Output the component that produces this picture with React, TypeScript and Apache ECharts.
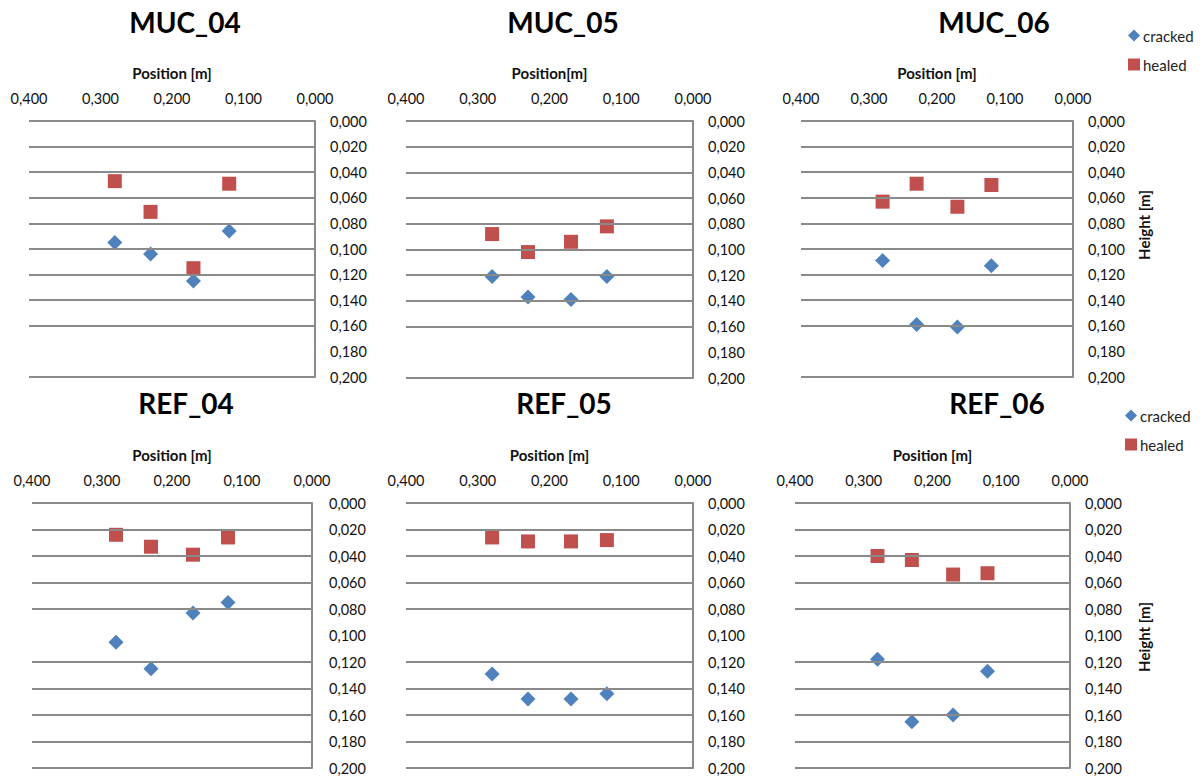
import React, { useEffect, useRef } from "react";
import * as echarts from "echarts";

const positions = [0.28, 0.23, 0.17, 0.12];

const muc04Cracked = [0.095, 0.104, 0.125, 0.086];
const muc04Healed = [0.047, 0.071, 0.115, 0.049];
const muc05Cracked = [0.121, 0.137, 0.139, 0.121];
const muc05Healed = [0.088, 0.102, 0.094, 0.082];
const muc06Cracked = [0.109, 0.159, 0.161, 0.113];
const muc06Healed = [0.063, 0.049, 0.067, 0.05];
const ref04Cracked = [0.105, 0.125, 0.083, 0.075];
const ref04Healed = [0.024, 0.033, 0.039, 0.026];
const ref05Cracked = [0.129, 0.148, 0.148, 0.144];
const ref05Healed = [0.026, 0.029, 0.029, 0.028];
const ref06Cracked = [0.118, 0.165, 0.16, 0.127];
const ref06Healed = [0.04, 0.043, 0.054, 0.053];

const panelTitles = ["MUC_04", "MUC_05", "MUC_06", "REF_04", "REF_05", "REF_06"];
const xAxisNames = ["Position [m]", "Position[m]", "Position [m]", "Position [m]", "Position [m]", "Position [m]"];
const crackedSets = [muc04Cracked, muc05Cracked, muc06Cracked, ref04Cracked, ref05Cracked, ref06Cracked];
const healedSets = [muc04Healed, muc05Healed, muc06Healed, ref04Healed, ref05Healed, ref06Healed];
const seriesNames = ["cracked", "healed"];
const yAxisName = "Height [m]";
// horizontal gridline values (the reference shows no line at 0,180 in the top row, none at 0,100 in the bottom row)
const topRowGridValues = [0, 0.02, 0.04, 0.06, 0.08, 0.1, 0.12, 0.14, 0.16, 0.2];
const bottomRowGridValues = [0, 0.02, 0.04, 0.06, 0.08, 0.12, 0.14, 0.16, 0.18, 0.2];

const FONT = "Lato, 'Open Sans', sans-serif";
const BLUE = "#4F81BD";
const RED = "#C0504D";
const GRID = "#8a8a8a";

const grids = [
  { left: 29, top: 121, width: 286, height: 256 },
  { left: 406, top: 121, width: 287, height: 257 },
  { left: 801, top: 121, width: 272, height: 256 },
  { left: 32, top: 503, width: 280, height: 265 },
  { left: 406, top: 503, width: 287, height: 265 },
  { left: 795, top: 503, width: 275, height: 265 },
];
const titlePos = [
  [185, 22], [563, 22], [994, 22],
  [186, 403], [564, 403], [997, 403],
];

const fmt = (v: number) => v.toFixed(3).replace(".", ",");

export default function App() {
  const ref = useRef<HTMLDivElement>(null);
  useEffect(() => {
    if (!ref.current) return;
    const chart = echarts.init(ref.current, undefined, { renderer: "svg" });

    const xAxes = grids.map((_, i) => ({
      type: "value",
      gridIndex: i,
      position: "top",
      inverse: true,
      min: 0,
      max: 0.4,
      interval: 0.1,
      name: xAxisNames[i],
      nameLocation: "middle",
      nameGap: 41,
      nameTextStyle: { fontFamily: FONT, fontWeight: "bold", fontSize: 15, color: "#111" },
      axisLine: { show: false },
      axisTick: { show: false },
      splitLine: { show: false },
      axisLabel: { formatter: fmt, margin: 15, fontFamily: FONT, fontSize: 14.5, color: "#111" },
    }));

    const yAxes = grids.map((_, i) => ({
      type: "value",
      gridIndex: i,
      position: "right",
      inverse: true,
      min: 0,
      max: 0.2,
      interval: 0.02,
      axisLine: { show: true, lineStyle: { color: GRID, width: 2 } },
      axisTick: { show: false },
      splitLine: { show: false },
      axisLabel: { formatter: fmt, margin: i === 3 ? 17 : 15, fontFamily: FONT, fontSize: 14.5, color: "#111" },
    }));

    const series: any[] = [];
    grids.forEach((_, i) => {
      const gv = i < 3 ? topRowGridValues : bottomRowGridValues;
      series.push({
        type: "scatter",
        name: "grid-" + i,
        xAxisIndex: i,
        yAxisIndex: i,
        z: 1,
        silent: true,
        data: [],
        markLine: {
          silent: true,
          symbol: "none",
          label: { show: false },
          lineStyle: { color: GRID, width: 2, type: "solid" },
          data: gv.map((v) => ({ yAxis: v })),
        },
      });
    });
    grids.forEach((_, i) => {
      series.push({
        type: "scatter",
        name: seriesNames[0],
        xAxisIndex: i,
        yAxisIndex: i,
        z: 3,
        symbol: "diamond",
        symbolSize: 15,
        itemStyle: { color: BLUE, opacity: 1 },
        data: positions.map((p, j) => [p, crackedSets[i][j]]),
      });
      series.push({
        type: "scatter",
        name: seriesNames[1],
        xAxisIndex: i,
        yAxisIndex: i,
        z: 3,
        symbol: "rect",
        symbolSize: 14,
        itemStyle: { color: RED, opacity: 1 },
        data: positions.map((p, j) => [p, healedSets[i][j]]),
      });
    });

    const legendCommon = {
      orient: "vertical",
      itemWidth: 12,
      itemHeight: 12,
      itemGap: 14,
      textStyle: { fontFamily: FONT, fontSize: 15, color: "#222", padding: [0, 0, 0, -2] },
      itemStyle: { opacity: 1 },
      data: [
        { name: seriesNames[0], icon: "diamond" },
        { name: seriesNames[1], icon: "rect" },
      ],
    };

    const graphics: any[] = [];
    panelTitles.forEach((t, i) => {
      graphics.push({
        type: "text",
        x: titlePos[i][0],
        y: titlePos[i][1],
        style: {
          text: t,
          font: `bold 28px ${FONT}`,
          fill: "#000",
          textAlign: "center",
          textVerticalAlign: "middle",
        },
      });
    });
    [225, 637].forEach((cy) => {
      graphics.push({
        type: "text",
        x: 1144,
        y: cy,
        rotation: Math.PI / 2,
        style: {
          text: yAxisName,
          font: `bold 15px ${FONT}`,
          fill: "#111",
          textAlign: "center",
          textVerticalAlign: "middle",
        },
      });
    });

    chart.setOption({
      animation: false,
      backgroundColor: "#fff",
      grid: grids.map((g) => ({ ...g, containLabel: false })),
      xAxis: xAxes,
      yAxis: yAxes,
      legend: [
        { ...legendCommon, left: 1123, top: 23 },
        { ...legendCommon, left: 1120, top: 403 },
      ],
      graphic: graphics,
      series,
    });
    return () => chart.dispose();
  }, []);

  return (
    <div
      ref={ref}
      style={{ position: "fixed", left: 0, top: 0, width: 1203, height: 776 }}
    />
  );
}
